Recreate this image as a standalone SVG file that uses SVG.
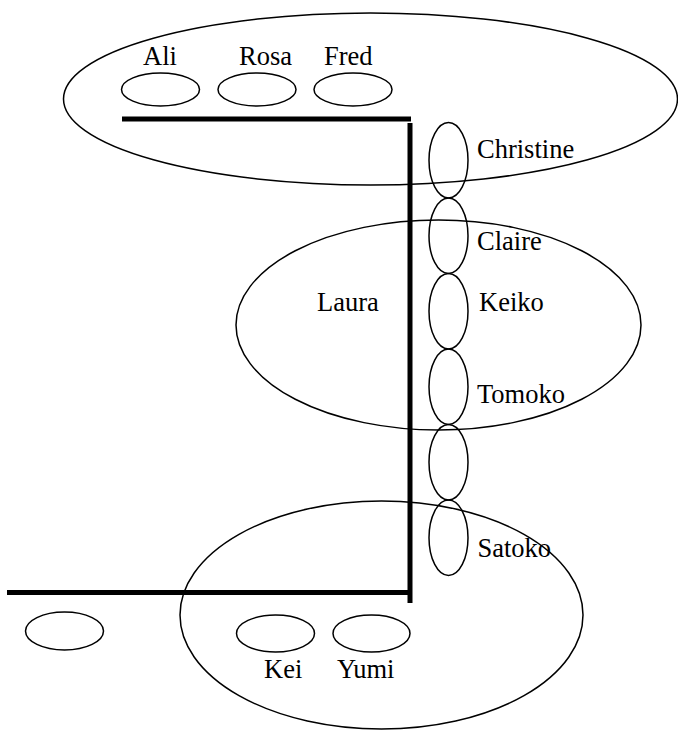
<svg xmlns="http://www.w3.org/2000/svg" width="678" height="730" viewBox="0 0 678 730">
<style>
.e{fill:none;stroke:#000;stroke-width:1.5}
.t{font-family:"Liberation Serif","Times New Roman",serif;font-size:26.5px;fill:#000}
.c{stroke:#000;stroke-width:5;fill:none}
</style>
<rect width="678" height="730" fill="#fff"/>
<g id="group-top"><ellipse class="e" cx="370.5" cy="99" rx="307" ry="86"/></g>
<g id="group-laura"><ellipse class="e" cx="438.5" cy="325" rx="202.5" ry="105"/><text class="t" x="317" y="311">Laura</text></g>
<g id="group-bottom"><ellipse class="e" cx="381.5" cy="615" rx="201.5" ry="114"/></g>
<g id="ali"><ellipse class="e" cx="160.5" cy="89.5" rx="39" ry="16.5"/><text class="t" x="143" y="65">Ali</text></g>
<g id="rosa"><ellipse class="e" cx="257" cy="89.5" rx="39" ry="16.5"/><text class="t" x="239" y="65">Rosa</text></g>
<g id="fred"><ellipse class="e" cx="353" cy="89.5" rx="39" ry="16.5"/><text class="t" x="324" y="65">Fred</text></g>
<g id="christine"><ellipse class="e" cx="448.5" cy="160.25" rx="19.5" ry="37.75"/><text class="t" x="477" y="158">Christine</text></g>
<g id="claire"><ellipse class="e" cx="448.5" cy="235.75" rx="19.5" ry="37.75"/><text class="t" x="477" y="250">Claire</text></g>
<g id="keiko"><ellipse class="e" cx="448.5" cy="311.25" rx="19.5" ry="37.75"/><text class="t" x="479" y="311">Keiko</text></g>
<g id="tomoko"><ellipse class="e" cx="448.5" cy="386.75" rx="19.5" ry="37.75"/><text class="t" x="477" y="403">Tomoko</text></g>
<g id="blank-chain"><ellipse class="e" cx="448.5" cy="462.25" rx="19.5" ry="37.75"/></g>
<g id="satoko"><ellipse class="e" cx="448.5" cy="537.75" rx="19.5" ry="37.75"/><text class="t" x="477.5" y="557">Satoko</text></g>
<g id="blank-left"><ellipse class="e" cx="64.5" cy="631" rx="39" ry="19"/></g>
<g id="kei"><ellipse class="e" cx="275.5" cy="633.5" rx="39" ry="18.5"/><text class="t" x="264" y="678">Kei</text></g>
<g id="yumi"><ellipse class="e" cx="371.5" cy="633.5" rx="38.5" ry="18.5"/><text class="t" x="337" y="678">Yumi</text></g>
<g id="connectors">
<line class="c" x1="122" y1="119" x2="411" y2="119"/>
<line class="c" x1="410" y1="123" x2="410" y2="603"/>
<line class="c" x1="7" y1="592.5" x2="412" y2="592.5"/>
</g>
</svg>
